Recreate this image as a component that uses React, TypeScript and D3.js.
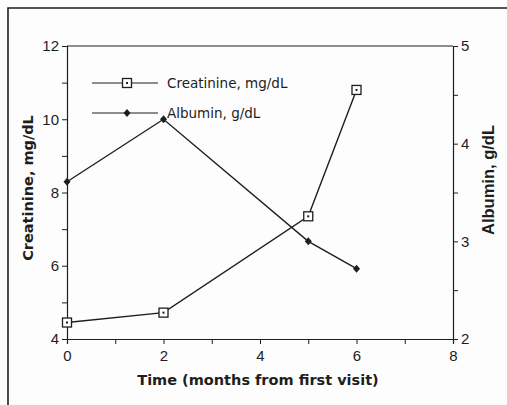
import React, { useEffect, useRef } from 'react';
import * as d3 from 'd3';

const months = [0, 2, 5, 6];
const creatinine = [4.45, 4.72, 7.35, 10.8];
const albumin = [3.61, 4.25, 3.0, 2.72];
const xTicks = [0, 2, 4, 6, 8];
const leftTicks = [4, 6, 8, 10, 12];
const rightTicks = [2, 3, 4, 5];
const legendLabels = ['Creatinine, mg/dL', 'Albumin, g/dL'];

const W = 507;
const H = 405;
const ink = '#1e1e1e';

const App: React.FC = () => {
  const svgRef = useRef<SVGSVGElement>(null);

  useEffect(() => {
    if (!svgRef.current) return;
    const svg = d3.select(svgRef.current);
    svg.selectAll('*').remove();

    const left = 67, right = 453, top = 46, bottom = 339;

    const x = d3.scaleLinear().domain([0, 8]).range([left, right]);
    const yL = d3.scaleLinear().domain([4, 12]).range([bottom, top]);
    const yR = d3.scaleLinear().domain([2, 5]).range([bottom, top]);

    // page frame
    svg.append('rect').attr('x', 0).attr('y', 0).attr('width', W).attr('height', H).attr('fill', '#fdfdfd');
    svg.append('path')
      .attr('d', `M8,${H} L8,8 L${W},8`)
      .attr('fill', 'none').attr('stroke', ink).attr('stroke-width', 1.6);

    const tickFont = '"Liberation Sans", Arial, sans-serif';
    const titleFont = '"DejaVu Sans", sans-serif';

    const g = svg.append('g');
    g.append('line').attr('x1', left).attr('x2', right).attr('y1', top).attr('y2', top)
      .attr('stroke', ink).attr('stroke-width', 1.2);

    const xAxis = d3.axisBottom(x).tickValues(d3.range(0, 9, 1)).tickSize(5)
      .tickFormat((d: any) => (xTicks.includes(+d) ? String(d) : ''));
    g.append('g').attr('transform', `translate(0,${bottom})`).call(xAxis as any)
      .call(s => s.select('.domain').attr('stroke', ink).attr('stroke-width', 1.2))
      .call(s => s.selectAll('line').attr('stroke', ink))
      .call(s => s.selectAll('text').attr('font-family', tickFont).attr('font-size', 15).attr('fill', ink).attr('dy', '0.9em'));

    const lAxis = d3.axisLeft(yL).tickValues(d3.range(4, 13, 1)).tickSize(5)
      .tickFormat((d: any) => (leftTicks.includes(+d) ? String(d) : ''));
    g.append('g').attr('transform', `translate(${left},0)`).call(lAxis as any)
      .call(s => s.select('.domain').attr('stroke', ink).attr('stroke-width', 1.2))
      .call(s => s.selectAll('line').attr('stroke', ink))
      .call(s => s.selectAll('text').attr('font-family', tickFont).attr('font-size', 15).attr('fill', ink));

    const rAxis = d3.axisRight(yR).tickValues(d3.range(2, 5.01, 0.5)).tickSize(5)
      .tickFormat((d: any) => (rightTicks.includes(+d) ? String(d) : ''));
    g.append('g').attr('transform', `translate(${right},0)`).call(rAxis as any)
      .call(s => s.select('.domain').attr('stroke', ink).attr('stroke-width', 1.2))
      .call(s => s.selectAll('line').attr('stroke', ink))
      .call(s => s.selectAll('text').attr('font-family', tickFont).attr('font-size', 15).attr('fill', ink));

    // axis titles
    svg.append('text').attr('x', 258).attr('y', 385)
      .attr('text-anchor', 'middle').attr('font-family', titleFont).attr('font-weight', 'bold')
      .attr('font-size', 14.5).attr('fill', ink).text('Time (months from first visit)');
    svg.append('text').attr('transform', `translate(33,188) rotate(-90)`)
      .attr('text-anchor', 'middle').attr('font-family', titleFont).attr('font-weight', 'bold')
      .attr('font-size', 14.5).attr('fill', ink).text('Creatinine, mg/dL');
    svg.append('text').attr('transform', `translate(494,180) rotate(-90)`)
      .attr('text-anchor', 'middle').attr('font-family', tickFont).attr('font-weight', 'bold')
      .attr('font-size', 16.5).attr('fill', ink).text('Albumin, g/dL');

    // series lines
    const lineC = d3.line<number>().x((_, i) => x(months[i])).y(d => yL(d));
    const lineA = d3.line<number>().x((_, i) => x(months[i])).y(d => yR(d));
    g.append('path').attr('d', lineC(creatinine)!).attr('fill', 'none').attr('stroke', ink).attr('stroke-width', 1.4);
    g.append('path').attr('d', lineA(albumin)!).attr('fill', 'none').attr('stroke', ink).attr('stroke-width', 1.4);

    const square = (sel: any, cx: number, cy: number) => {
      sel.append('rect').attr('x', cx - 4.5).attr('y', cy - 4.5).attr('width', 9).attr('height', 9)
        .attr('fill', '#fff').attr('stroke', ink).attr('stroke-width', 1.3);
      sel.append('rect').attr('x', cx - 1).attr('y', cy - 1).attr('width', 2).attr('height', 2).attr('fill', ink);
    };
    const diamond = (sel: any, cx: number, cy: number) => {
      sel.append('path').attr('d', `M${cx},${cy - 4}L${cx + 3.5},${cy}L${cx},${cy + 4}L${cx - 3.5},${cy}Z`)
        .attr('fill', ink);
    };

    creatinine.forEach((v, i) => square(g, x(months[i]), yL(v)));
    albumin.forEach((v, i) => diamond(g, x(months[i]), yR(v)));

    // legend
    const lg = svg.append('g');
    legendLabels.forEach((lab, i) => {
      const ly = 83 + i * 30;
      lg.append('line').attr('x1', 92).attr('x2', 158).attr('y1', ly).attr('y2', ly)
        .attr('stroke', ink).attr('stroke-width', 1.2);
      if (i === 0) square(lg, 127, ly); else diamond(lg, 127, ly);
      lg.append('text').attr('x', 167).attr('y', ly + 5).attr('font-family', '"DejaVu Sans", sans-serif')
        .attr('font-size', 13.5).attr('fill', ink).text(lab);
    });
  }, []);

  return (
    <svg ref={svgRef} width={W} height={H} style={{ position: 'absolute', left: 0, top: 0 }} />
  );
};

export default App;
